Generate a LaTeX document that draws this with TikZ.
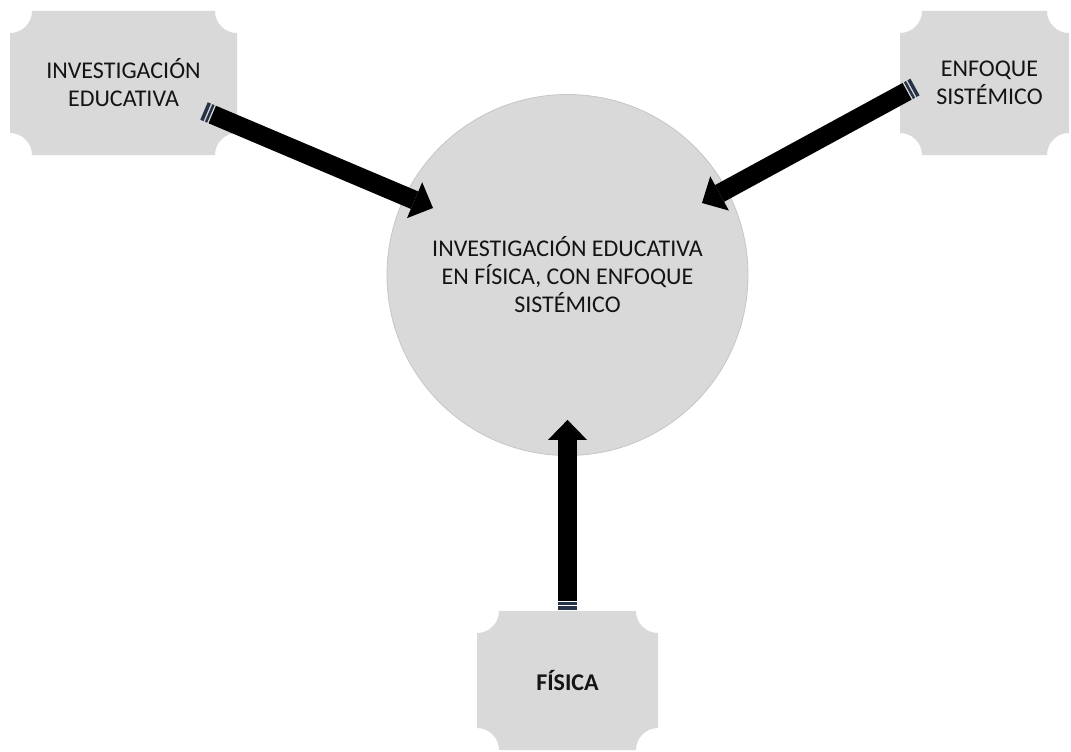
\documentclass[tikz,border=0pt]{standalone}
\usepackage{fontspec}
\setmainfont{Carlito}
\usetikzlibrary{arrows.meta, calc, positioning}
\definecolor{plaquegray}{RGB}{217,217,217}
\definecolor{rimgray}{RGB}{196,198,204}
\definecolor{stripeblue}{RGB}{38,50,72}
\definecolor{inktext}{RGB}{20,20,20}

\tikzset{
  plaque/.style={inner sep=0pt, align=center, text=inktext,
    path picture={
      \fill[plaquegray]
        let \p1=(path picture bounding box.north west),
            \p2=(path picture bounding box.south east) in
        (\x1+22pt,\y1) -- (\x2-22pt,\y1) arc[start angle=180, end angle=270, radius=22pt]
        -- (\x2,\y2+22pt) arc[start angle=90, end angle=180, radius=22pt]
        -- (\x1+22pt,\y2) arc[start angle=0, end angle=90, radius=22pt]
        -- (\x1,\y1-22pt) arc[start angle=270, end angle=360, radius=22pt] -- cycle;
    }},
  hubcircle/.style={circle, fill=plaquegray, draw=rimgray, line width=0.8pt,
    minimum size=361pt, inner sep=0pt, align=center, text=inktext},
  fatarrow/.style={line width=19pt, black,
    -{Triangle[width=39pt, length=20pt, line width=0pt]}},
  stripe/.style={line width=19pt, stripeblue}
}

\begin{document}
\begin{tikzpicture}[x=1pt, y=1pt, font=\fontsize{24}{28}\selectfont]
  \useasboundingbox (0,0) rectangle (1071,-752);

  \node[hubcircle] (hub) at (567.5,-275) {INVESTIGACIÓN EDUCATIVA\\EN FÍSICA, CON ENFOQUE\\SISTÉMICO};

  \node[plaque, minimum width=227pt, minimum height=144pt] (educ) at (123.5,-83) {INVESTIGACIÓN\\EDUCATIVA};
  \node[plaque, minimum width=169pt, minimum height=144pt] (sist) at (984.5,-83) {\hspace*{10pt}ENFOQUE\\\hspace*{10pt}SISTÉMICO};
  \node[plaque, minimum width=181pt, minimum height=139pt, font=\fontsize{24}{28}\selectfont\bfseries] (fis) at (567.5,-680.5) {FÍSICA};

  % arrow ends
  \coordinate (educ-tail) at ($(educ.center)+(80.5,-28)$);
  \coordinate (educ-tip) at ($(hub.center)+(-134.5,67)$);
  \coordinate (sist-tail) at ($(sist.center)+(-69.5,-4)$);
  \coordinate (sist-tip) at ($(hub.center)+(134.5,72)$);
  \coordinate (fis-tail) at ($(fis.north)+(0,1)$);
  \coordinate (fis-tip) at ($(hub.south)+(0,36)$);

  \foreach \n in {educ, sist, fis} {
    \draw[fatarrow] ($(\n-tail)!9pt!(\n-tip)$) -- (\n-tip);
    \draw[stripe] (\n-tail) -- ($(\n-tail)!3.5pt!(\n-tip)$);
    \draw[stripe] ($(\n-tail)!5pt!(\n-tip)$) -- ($(\n-tail)!7.5pt!(\n-tip)$);
  }
\end{tikzpicture}
\end{document}
